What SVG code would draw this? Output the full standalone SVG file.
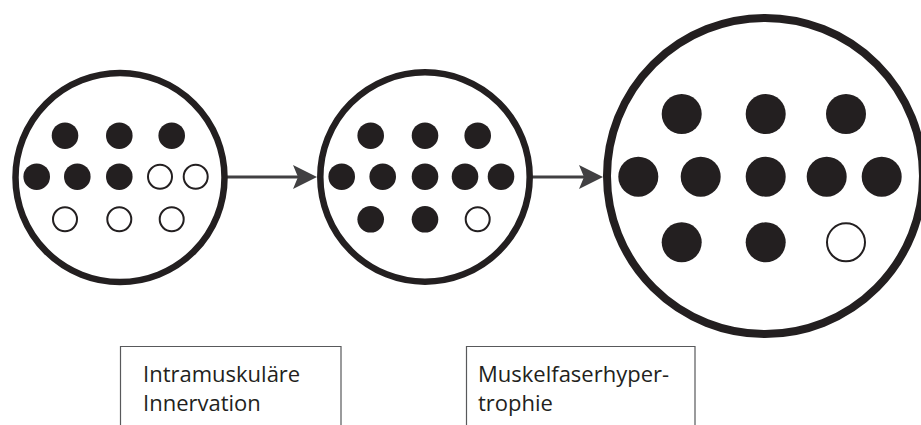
<svg xmlns="http://www.w3.org/2000/svg" width="921" height="425" viewBox="0 0 921 425">
<style>
.ring{fill:#fff;stroke:#231f20}
.f{fill:#231f20}
.o{fill:#fff;stroke:#231f20;stroke-width:2}
.box{fill:#fff;stroke:#58595b;stroke-width:1.2}
.lbl{font-family:"Open Sans","Noto Sans",sans-serif;font-size:22px;fill:#231f20}
.conn{stroke:#414042;stroke-width:3;fill:none}
</style>
<defs>
<marker id="ah" markerUnits="userSpaceOnUse" markerWidth="26" markerHeight="26" refX="6" refY="12" orient="auto" overflow="visible">
<path d="M0,0 L24,12 L0,24 L5,12 Z" fill="#414042"/>
</marker>
</defs>
<g id="connectors">
<line class="conn" x1="226" y1="177" x2="299" y2="177" marker-end="url(#ah)"/>
<line class="conn" x1="531" y1="177" x2="585" y2="177" marker-end="url(#ah)"/>
</g>
<g id="muscle1">
<circle class="ring" cx="120" cy="177.5" r="104.5" stroke-width="6.5"/>
<circle class="f" cx="65" cy="135.7" r="13.3"/>
<circle class="f" cx="119.3" cy="135.7" r="13.3"/>
<circle class="f" cx="171.7" cy="135.7" r="13.3"/>
<circle class="f" cx="36.7" cy="176.7" r="13.3"/>
<circle class="f" cx="77.3" cy="176.7" r="13.3"/>
<circle class="f" cx="119.3" cy="176.7" r="13.3"/>
<circle class="o" cx="160" cy="176.7" r="12"/>
<circle class="o" cx="195.7" cy="176.7" r="12"/>
<circle class="o" cx="65" cy="219.3" r="12"/>
<circle class="o" cx="119.3" cy="219.3" r="12"/>
<circle class="o" cx="171.7" cy="219.3" r="12"/>
</g>
<g id="muscle2">
<circle class="ring" cx="425" cy="177" r="104.7" stroke-width="6.5"/>
<circle class="f" cx="370.7" cy="135.7" r="13.3"/>
<circle class="f" cx="425" cy="135.7" r="13.3"/>
<circle class="f" cx="477.7" cy="135.7" r="13.3"/>
<circle class="f" cx="341.7" cy="176.7" r="13.3"/>
<circle class="f" cx="382.7" cy="176.7" r="13.3"/>
<circle class="f" cx="425" cy="176.7" r="13.3"/>
<circle class="f" cx="465" cy="176.7" r="13.3"/>
<circle class="f" cx="501" cy="176.7" r="13.3"/>
<circle class="f" cx="370.7" cy="219.3" r="13.3"/>
<circle class="f" cx="425" cy="219.3" r="13.3"/>
<circle class="o" cx="477.7" cy="219.3" r="12"/>
</g>
<g id="muscle3">
<circle class="ring" cx="765" cy="176" r="158" stroke-width="8"/>
<circle class="f" cx="681.7" cy="114" r="20"/>
<circle class="f" cx="765.7" cy="114" r="20"/>
<circle class="f" cx="846" cy="114" r="20"/>
<circle class="f" cx="638.3" cy="176.7" r="20"/>
<circle class="f" cx="700.7" cy="176.7" r="20"/>
<circle class="f" cx="765.7" cy="176.7" r="20"/>
<circle class="f" cx="826.7" cy="176.7" r="20"/>
<circle class="f" cx="881.7" cy="176.7" r="20"/>
<circle class="f" cx="681.7" cy="242.3" r="20"/>
<circle class="f" cx="765.7" cy="242.3" r="20"/>
<circle class="o" cx="846" cy="242.3" r="19" stroke-width="2.5"/>
</g>
<g id="label1">
<path class="box" d="M120.5,430 V346.5 H341 V430"/>
<text class="lbl" x="143" y="381.5">Intramuskuläre</text>
<text class="lbl" x="143" y="411">Innervation</text>
</g>
<g id="label2">
<path class="box" d="M466.5,430 V346.5 H695 V430"/>
<text class="lbl" x="478" y="381.5">Muskelfaserhyper-</text>
<text class="lbl" x="478" y="411">trophie</text>
</g>
</svg>
